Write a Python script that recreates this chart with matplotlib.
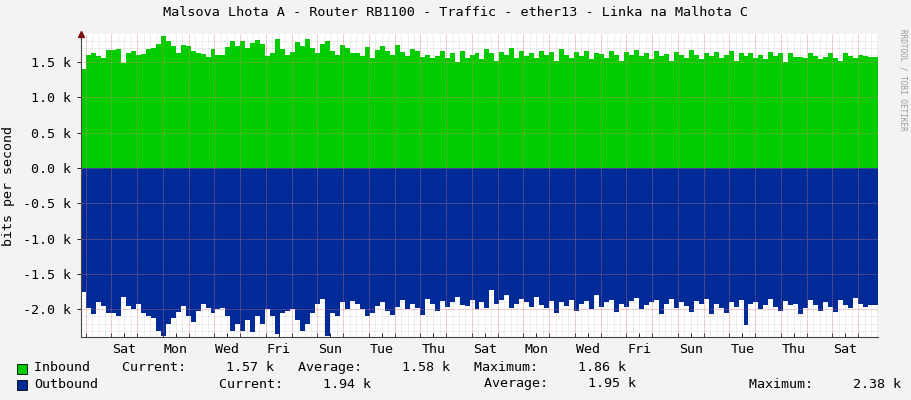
import matplotlib
matplotlib.use("Agg")
import matplotlib.pyplot as plt
import numpy as np

title = "Malsova Lhota A - Router RB1100 - Traffic - ether13 - Linka na Malhota C"
day_labels = ["Sat","Mon","Wed","Fri","Sun","Tue","Thu","Sat","Mon","Wed","Fri","Sun","Tue","Thu","Sat"]
inbound = [1.40,1.60,1.63,1.58,1.56,1.67,1.67,1.68,1.49,1.63,1.65,1.60,1.61,1.68,1.70,1.75,1.86,1.79,1.73,1.62,1.74,1.73,1.66,1.62,1.61,1.57,1.68,1.60,1.60,1.71,1.80,1.73,1.80,1.70,1.77,1.81,1.76,1.58,1.62,1.82,1.68,1.60,1.64,1.78,1.72,1.83,1.70,1.62,1.76,1.80,
           1.66,1.60,1.74,1.70,1.63,1.62,1.58,1.71,1.55,1.67,1.72,1.66,1.60,1.74,1.64,1.58,1.68,1.66,1.57,1.60,1.55,1.58,1.66,1.56,1.63,1.50,1.66,1.56,1.60,1.63,1.54,1.68,1.62,1.52,1.64,1.60,1.70,1.56,1.66,1.58,1.62,1.55,1.66,1.60,1.64,1.52,1.68,1.60,1.56,1.64,
           1.58,1.66,1.54,1.63,1.61,1.56,1.66,1.60,1.52,1.64,1.60,1.67,1.58,1.62,1.54,1.66,1.58,1.61,1.52,1.64,1.60,1.56,1.67,1.60,1.54,1.62,1.58,1.64,1.55,1.60,1.66,1.52,1.62,1.58,1.63,1.56,1.60,1.54,1.64,1.58,1.62,1.50,1.62,1.57,1.57,1.55,1.63,1.58,1.54,1.57,
           1.62,1.56,1.52,1.62,1.58,1.55,1.60,1.58,1.57,1.57]
outbound = [1.75,1.98,2.06,1.90,1.95,2.05,2.05,2.10,1.82,1.95,2.00,1.93,2.05,2.10,2.12,2.30,2.38,2.20,2.12,2.03,1.95,2.10,2.18,2.02,1.92,1.98,2.05,2.00,1.98,2.10,2.30,2.20,2.30,2.15,2.32,2.10,2.20,2.00,2.10,2.35,2.05,2.02,2.00,2.15,2.30,2.20,2.05,1.92,1.85,2.38,
            2.05,2.10,1.90,2.00,1.88,1.92,2.00,2.10,2.05,1.95,1.90,2.02,2.08,1.96,1.86,2.00,1.93,1.98,2.08,1.85,1.93,2.02,1.88,1.96,1.90,1.82,1.94,1.95,1.86,2.00,1.90,1.98,1.72,1.92,1.86,1.80,1.98,1.92,1.85,1.90,1.96,1.82,1.94,1.98,1.88,2.05,1.90,1.95,1.86,2.02,
            1.92,1.88,2.00,1.80,1.96,1.90,1.86,2.04,1.92,1.96,1.88,1.84,2.00,1.94,1.90,1.86,2.06,1.92,1.85,1.98,1.90,1.95,2.04,1.88,1.92,1.85,2.06,1.93,1.98,2.05,1.90,1.96,1.86,2.22,1.92,1.90,2.00,1.94,1.85,1.96,2.02,1.88,1.94,1.92,2.06,1.98,1.86,1.94,2.02,1.90,
            1.96,2.04,1.86,1.94,1.98,1.84,1.92,1.96,1.94,1.94]

n = len(inbound)
t0, t1 = -0.18, 30.77
edges = np.linspace(t0, t1, n + 1)

fig = plt.figure(figsize=(9.11, 4.0), dpi=100, facecolor="#f3f3f3")
ax = fig.add_axes([81/911, 1-337/400, (878-81)/911, (337-34)/400])
ax.set_facecolor("white")
inb = np.array(inbound); outb = -np.array(outbound)
ax.stairs(inb, edges, fill=True, color="#00cc00", lw=0)
ax.stairs(outb, edges, fill=True, color="#002a97", lw=0)
ax.set_xlim(t0, t1)
ax.set_ylim(-2.39, 1.895)

for x in np.arange(0, 31, 0.25):
    ax.axvline(x, color="#d0d0d0", lw=0.5, ls=(0, (1, 1)), zorder=0.5)
for y in np.arange(-2.3, 1.9, 0.1):
    ax.axhline(y, color="#d0d0d0", lw=0.5, ls=(0, (1, 1)), zorder=0.5)
for x in range(0, 31):
    ax.axvline(x, color="#f08080", lw=0.6, ls=(0, (1, 1)), zorder=3, alpha=0.7)
for y in np.arange(-2.0, 1.6, 0.5):
    ax.axhline(y, color="#f08080", lw=0.6, ls=(0, (1, 1)), zorder=3, alpha=0.7)

ax.set_xticks([1.5 + 2*i for i in range(len(day_labels))])
ax.set_xticklabels(day_labels)
ax.set_xticks(np.arange(0, 31, 1), minor=True)
yt = np.arange(-2.0, 1.6, 0.5)
ax.set_yticks(yt)
ax.set_yticklabels([f"{v:.1f} k" for v in yt])
ax.tick_params(axis="both", labelsize=9.6, colors="#000000", length=3, width=0.6, pad=4)
ax.tick_params(axis="x", which="both", length=3, direction="in")
for s in ["top", "right"]:
    ax.spines[s].set_visible(False)
for s in ["left", "bottom"]:
    ax.spines[s].set_color("#444444"); ax.spines[s].set_linewidth(0.8)
for lab in ax.get_xticklabels() + ax.get_yticklabels():
    lab.set_family("DejaVu Sans Mono")
ax.set_ylabel("bits per second", family="DejaVu Sans Mono", fontsize=9.6, labelpad=6)
ax.plot([t0], [1.895], marker="^", color="#7a1010", ms=4, clip_on=False, zorder=5)

fig.text(0.5, 1-13/400, title, ha="center", va="center", family="DejaVu Sans Mono", fontsize=9.7)
fig.text(903/911, 0.8, "RRDTOOL / TOBI OETIKER", rotation=270, ha="center", va="center",
         family="DejaVu Sans Mono", fontsize=5.5, color="#999999")

mono = dict(family="DejaVu Sans Mono", fontsize=9.6, va="center")
fig.patches.append(plt.Rectangle((17/911, 1-374/400), 10/911, 10/400, transform=fig.transFigure, fc="#00cc00", ec="black", lw=0.6))
fig.patches.append(plt.Rectangle((17/911, 1-390/400), 10/911, 10/400, transform=fig.transFigure, fc="#002a97", ec="black", lw=0.6))
fig.text(34/911, 1-368/400, "Inbound    Current:     1.57 k   Average:     1.58 k   Maximum:     1.86 k", **mono)
fig.text(34/911, 1-384/400, "Outbound", **mono)
fig.text(219/911, 1-384/400, "Current:     1.94 k", **mono)
fig.text(484/911, 1-384/400, "Average:     1.95 k", **mono)
fig.text(749/911, 1-384/400, "Maximum:     2.38 k", **mono)

fig.savefig("out.png", dpi=100, facecolor=fig.get_facecolor())
